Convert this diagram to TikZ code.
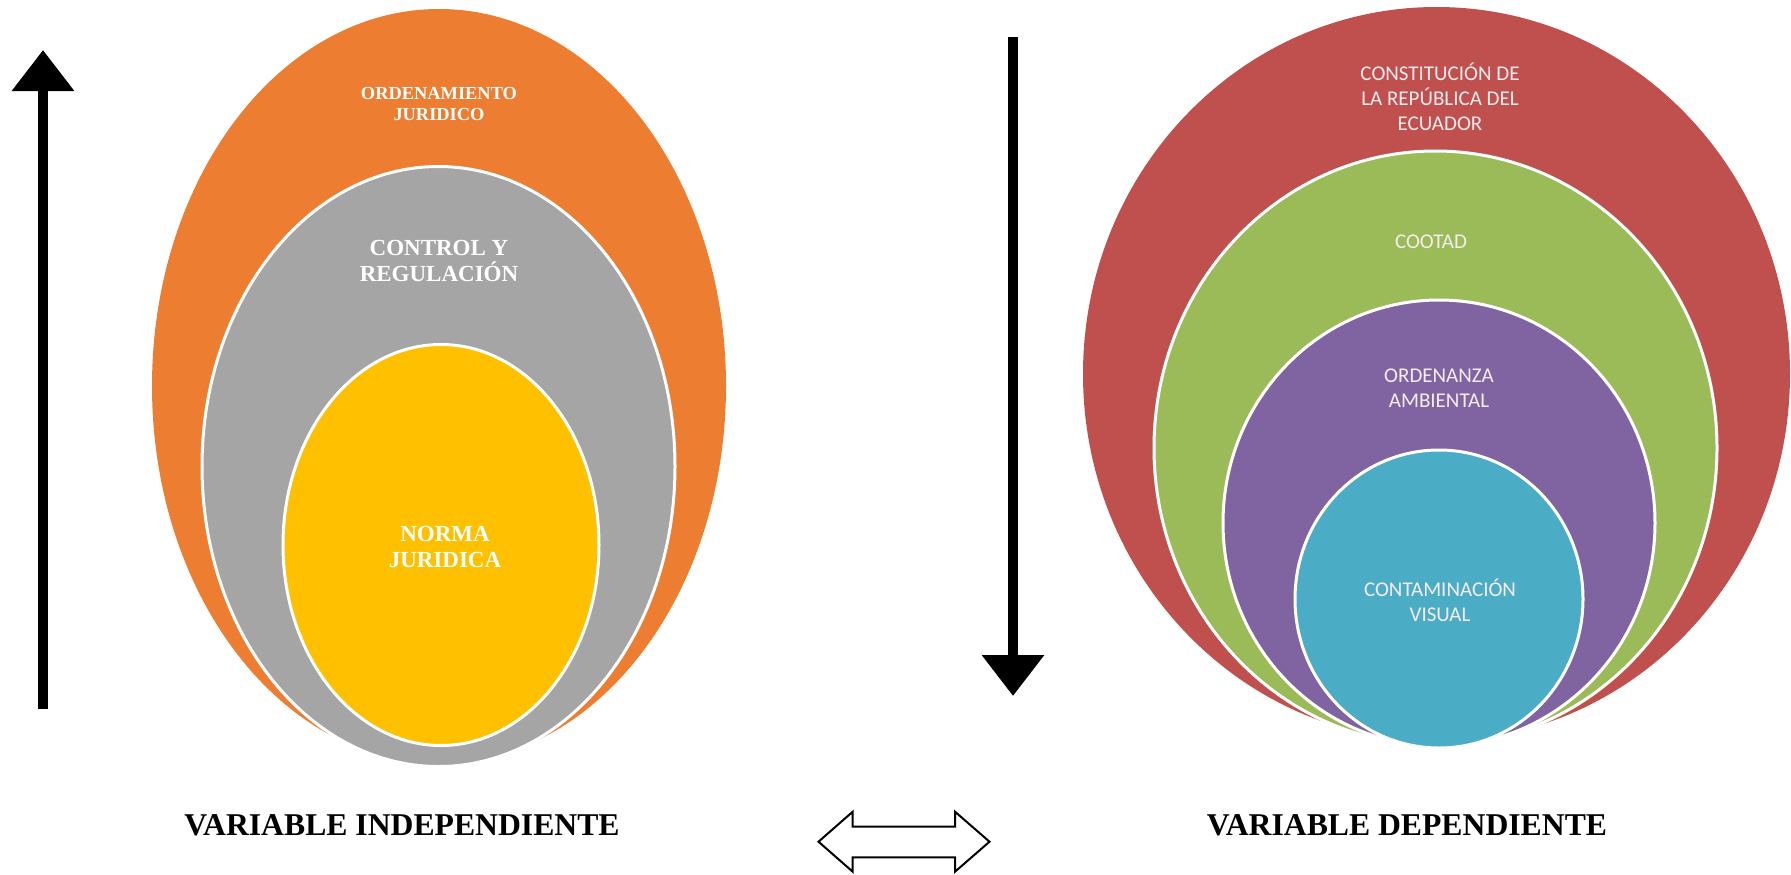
\documentclass[tikz,border=0pt]{standalone}
\usepackage{fontspec}
\setmainfont{Liberation Serif}
\newfontfamily\calfont{Carlito}
\usetikzlibrary{shapes.geometric,arrows.meta}
\definecolor{cOrange}{HTML}{ED7D31}
\definecolor{cGray}{HTML}{A5A5A5}
\definecolor{cYellow}{HTML}{FFC000}
\definecolor{cRed}{HTML}{C0504D}
\definecolor{cGreen}{HTML}{9BBB59}
\definecolor{cPurple}{HTML}{8064A2}
\definecolor{cBlue}{HTML}{4BACC6}
\definecolor{cTxt}{HTML}{F7ECEF}
\tikzset{
  ell/.style={ellipse, inner sep=0pt, outer sep=0pt, draw=white, line width=3pt},
  serifsmall/.style={text=white, font=\bfseries\fontsize{18.4}{20.5}\selectfont, align=center, inner sep=0pt},
  serifbig/.style={text=white, font=\bfseries\fontsize{23}{26}\selectfont, align=center, inner sep=0pt},
  sanslab/.style={text=cTxt, font=\calfont\fontsize{21}{25}\selectfont, align=center, inner sep=0pt},
  varlab/.style={font=\bfseries\fontsize{31.7}{36}\selectfont, inner sep=0pt},
  bigarrow/.style={line width=10pt, -{Triangle[width=60pt,length=41pt]}},
  outlinearrow/.style={draw=black, line width=2pt, fill=white, line join=miter}
}
\begin{document}
\begin{tikzpicture}[x=1pt,y=-1pt]
\path[use as bounding box] (0,0) rectangle (1791,875);
% left nested ellipses
\node[ell, draw=none, fill=cOrange, minimum width=574pt, minimum height=754pt] (ord) at (439,386) {};
\node[ell, fill=cGray, minimum width=473pt, minimum height=600pt] (ctrl) at (438.5,466.5) {};
\node[ell, fill=cYellow, minimum width=316pt, minimum height=401pt] (norma) at (441,545) {};
\node[serifsmall] (tord) at (439,104) {ORDENAMIENTO\\JURIDICO};
\node[serifbig] (tctrl) at (439,261) {CONTROL Y\\REGULACIÓN};
\node[serifbig] (tnorma) at (445,547) {NORMA\\JURIDICA};
% right nested shapes
\node[ell, draw=none, fill=cRed, minimum width=707pt, minimum height=734pt] (cons) at (1436.5,374) {};
\node[ell, fill=cGreen, minimum width=563pt, minimum height=594pt] (cootad) at (1435.5,448) {};
\node[ell, fill=cPurple, minimum width=432pt, minimum height=446pt] (orden) at (1439,523) {};
\node[ell, fill=cBlue, minimum width=288pt, minimum height=298pt] (cont) at (1439,599) {};
\node[sanslab] (tcons) at (1440,97) {CONSTITUCIÓN DE\\LA REPÚBLICA DEL\\ECUADOR};
\node[sanslab] (tcootad) at (1431,242) {COOTAD};
\node[sanslab] (torden) at (1439,388) {ORDENANZA\\AMBIENTAL};
\node[sanslab] (tcont) at (1440,600) {CONTAMINACIÓN\\VISUAL};
% vertical arrows
\coordinate (upS) at (43,709);
\coordinate (upE) at (43,50);
\draw[bigarrow] (upS) -- (upE);
\coordinate (dnS) at (1013,37);
\coordinate (dnE) at (1013,696);
\draw[bigarrow] (dnS) -- (dnE);
% labels
\node[varlab] (vi) at (402,825) {VARIABLE INDEPENDIENTE};
\node[varlab] (vd) at (1407,825) {VARIABLE DEPENDIENTE};
% double outline arrow
\coordinate (dl) at (818.5,841.7);
\coordinate (dr) at (989.5,841.7);
\draw[outlinearrow] (dl) -- (852.7,811.7) -- (852.7,826.7) -- (955,826.7) -- (955,811.7)
  -- (dr) -- (955,871.7) -- (955,857.3) -- (852.7,857.3) -- (852.7,871.7) -- cycle;
\end{tikzpicture}
\end{document}
